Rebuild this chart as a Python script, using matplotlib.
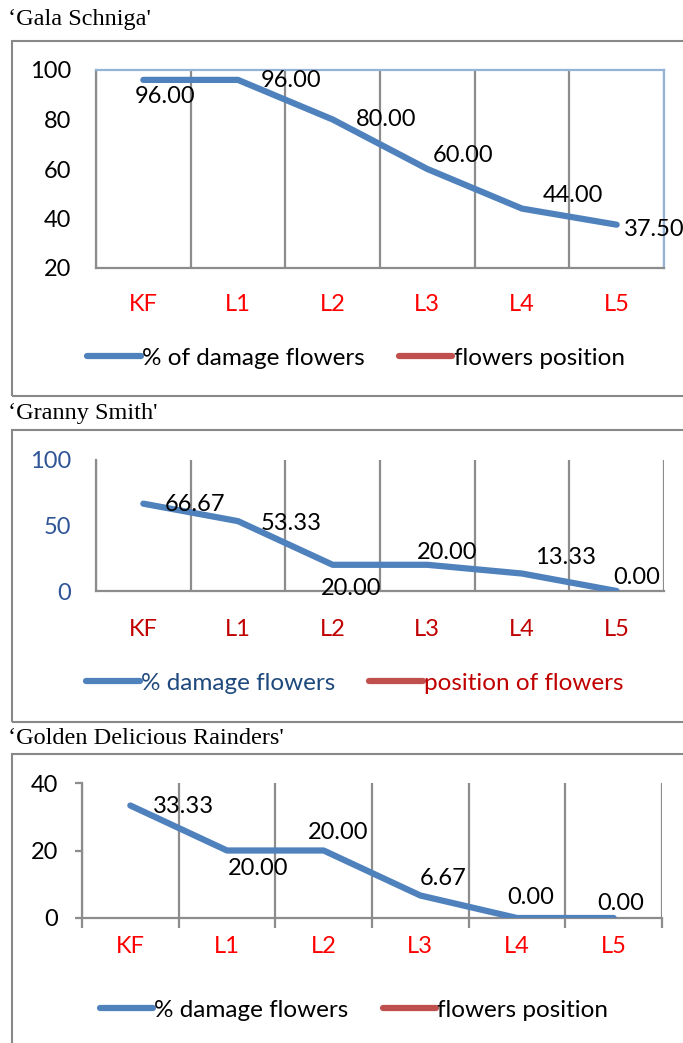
import matplotlib
matplotlib.use("Agg")
import matplotlib.pyplot as plt
from matplotlib.lines import Line2D
from matplotlib.patches import Rectangle

plt.rcParams["font.family"] = ["Lato", "DejaVu Sans"]

categories = ["KF", "L1", "L2", "L3", "L4", "L5"]

gala_title = "\u2018Gala Schniga'"
gala_values = [96.00, 96.00, 80.00, 60.00, 44.00, 37.50]
gala_legend = ["% of damage flowers", "flowers position"]

granny_title = "\u2018Granny Smith'"
granny_values = [66.67, 53.33, 20.00, 20.00, 13.33, 0.00]
granny_legend = ["% damage flowers", "position of flowers"]

golden_title = "\u2018Golden Delicious Rainders'"
golden_values = [33.33, 20.00, 20.00, 6.67, 0.00, 0.00]
golden_legend = ["% damage flowers", "flowers position"]

# label offsets in pixels (dx, dy) relative to each point
gala_offsets = [(22, -17), (53, -1), (53, 0), (36, 13), (51, 13), (38, -5)]
granny_offsets = [(52, -1), (53, -2), (18, -24), (20, 12), (44, 16), (20, 14)]
golden_offsets = [(53, -1), (31, -18), (14, 18), (23, 17), (14, 20), (7, 14)]

W, H = 683, 1043
BLUE = "#4F81BD"
RED = "#C0504D"
GRID = "#8C8C8C"
FS = 17
LEG_FS = 17.5


def fx(px):
    return px / W


def fy(py):
    return 1 - py / H


fig = plt.figure(figsize=(W / 100, H / 100), dpi=100)


def panel_box(top, bottom):
    r = Rectangle((fx(12), fy(bottom)), fx(700), fy(top) - fy(bottom),
                  transform=fig.transFigure, fill=False, edgecolor="#888888",
                  linewidth=1.5, clip_on=False)
    fig.patches.append(r)


def draw_panel(rect, values, ylim, yticks, offsets, title, title_y, legend_labels,
               legend_y, legend_x, ytick_color, xtick_color, leg_colors,
               xpad, ypad, tick_out=False):
    ax = fig.add_axes(rect)
    x = list(range(len(categories)))
    ax.plot(x, values, color=BLUE, lw=4.5, solid_capstyle="round",
            solid_joinstyle="round", zorder=3)
    for i, v in enumerate(values):
        ax.annotate(f"{v:.2f}", (i, v), xytext=offsets[i], textcoords="offset pixels",
                    ha="center", va="center", fontsize=FS, color="black", zorder=4,
                    annotation_clip=False)
    ax.set_xlim(-0.5, len(categories) - 0.5)
    ax.set_ylim(*ylim)
    ax.set_yticks(yticks)
    ax.set_xticks(x)
    ax.set_xticklabels(categories)
    ax.set_xticks([i - 0.5 for i in range(len(categories) + 1)], minor=True)
    ax.grid(True, which="minor", axis="x", color=GRID, lw=1.6)
    ax.tick_params(axis="x", which="major", length=0, pad=xpad, labelsize=FS,
                   labelcolor=xtick_color)
    ax.tick_params(axis="x", which="minor", length=7 if tick_out else 0,
                   width=1.6, color=GRID, direction="out")
    ax.tick_params(axis="y", length=5 if tick_out else 0, width=1.6, color=GRID,
                   pad=ypad, labelsize=FS, labelcolor=ytick_color)
    for s in ax.spines.values():
        s.set_color(GRID)
        s.set_linewidth(1.6)
    fig.text(fx(8), fy(title_y), title, fontsize=17.5, family="Liberation Serif",
             ha="left", va="center")
    handles = [Line2D([], [], color=BLUE, lw=4.5, solid_capstyle="round"),
               Line2D([], [], color=RED, lw=4.5, solid_capstyle="round")]
    leg = fig.legend(handles, legend_labels, loc="center", ncol=2, frameon=False,
                     bbox_to_anchor=(fx(legend_x), fy(legend_y)), fontsize=LEG_FS,
                     handlelength=2.2, handletextpad=0.05, columnspacing=1.4)
    for t, c in zip(leg.get_texts(), leg_colors):
        t.set_color(c)
    return ax


# Panel 1
panel_box(41, 396)
ax1 = draw_panel([fx(96), fy(268), fx(664) - fx(96), fy(70) - fy(268)],
                 gala_values, (20, 100), [20, 40, 60, 80, 100], gala_offsets,
                 gala_title, 20, gala_legend, 358, 356, "black", "#FF0000",
                 ["black", "black"], 19, 18)
ax1.spines["top"].set_color("#95B3D7")
ax1.spines["right"].set_color("#95B3D7")

# Panel 2
panel_box(430, 722)
ax2 = draw_panel([fx(96), fy(591), fx(664) - fx(96), fy(460) - fy(591)],
                 granny_values, (0, 100), [0, 50, 100], granny_offsets,
                 granny_title, 413, granny_legend, 683, 355, "#2F5597", "#C00000",
                 ["#1F497D", "#C00000"], 20, 18)
ax2.spines["top"].set_visible(False)
ax2.spines["right"].set_visible(False)

# Panel 3
panel_box(754, 1100)
ax3 = draw_panel([fx(82), fy(918), fx(662) - fx(82), fy(783) - fy(918)],
                 golden_values, (0, 40), [0, 20, 40], golden_offsets,
                 golden_title, 738, golden_legend, 1010, 354, "black", "#FF0000",
                 ["black", "black"], 13, 12, tick_out=True)
ax3.spines["top"].set_visible(False)
ax3.spines["right"].set_visible(False)

fig.savefig("out.png", dpi=100)
